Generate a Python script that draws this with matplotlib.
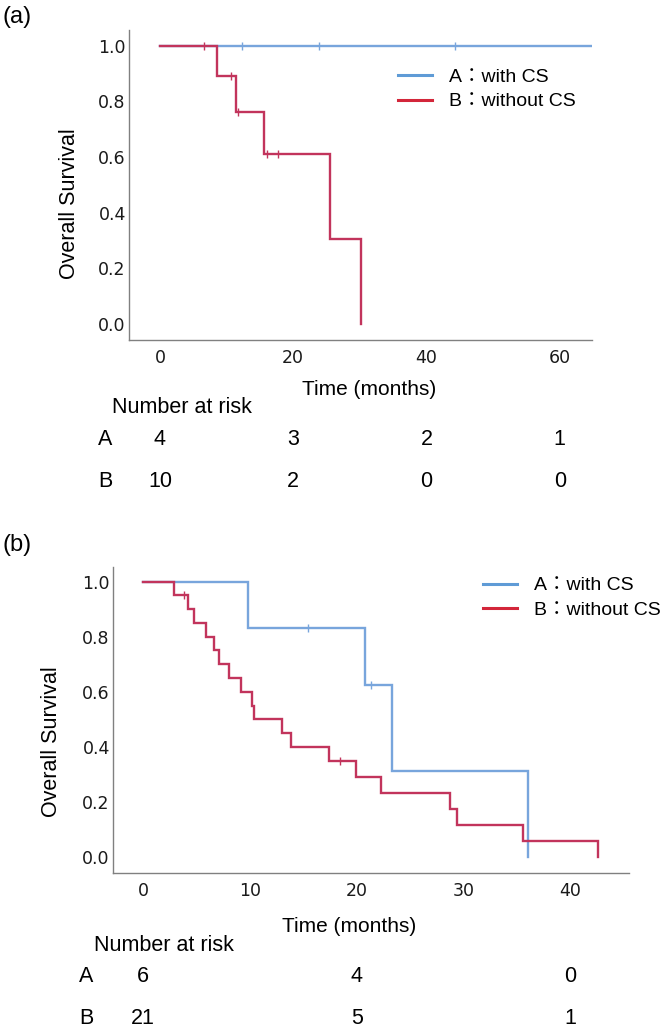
import matplotlib
matplotlib.use("Agg")
import numpy as np
import matplotlib.pyplot as plt
from matplotlib.lines import Line2D

# ---- data ----
# panel (a)
a_A_times = [0, 64.8]
a_A_surv = [1.0, 1.0]
a_A_cens = [12.3, 23.9, 44.3]
a_B_times = [0, 8.55, 11.4, 15.65, 25.5, 30.25]
a_B_surv = [1.0, 0.889, 0.762, 0.610, 0.305, 0.0]
a_B_cens = [6.6, 10.6, 11.7, 16.0, 17.65]
a_risk_times = [0, 20, 40, 60]
a_risk_A = [4, 3, 2, 1]
a_risk_B = [10, 2, 0, 0]

# panel (b)
b_A_times = [0, 9.8, 20.8, 23.3, 36.0]
b_A_surv = [1.0, 0.833, 0.625, 0.3125, 0.0]
b_A_cens = [15.4, 21.3]
b_B_times = [0, 2.9, 4.2, 4.8, 5.9, 6.6, 7.1, 8.0, 9.2, 10.2, 10.4,
             13.0, 13.8, 17.4, 19.9, 22.3, 28.7, 29.4, 35.6, 42.6]
b_B_surv = [1.0, 0.952, 0.902, 0.852, 0.802, 0.752, 0.702, 0.652, 0.602,
            0.551, 0.501, 0.451, 0.401, 0.351, 0.292, 0.234, 0.175, 0.117,
            0.058, 0.0]
b_B_cens = [3.8, 18.4]
b_risk_times = [0, 20, 40]
b_risk_A = [6, 4, 0]
b_risk_B = [21, 5, 1]

labels = ["A\uff1awith CS", "B\uff1awithout CS"]
curve_colors = ["#78a5dc", "#c2345c"]
legend_colors = ["#5f9bd6", "#d3263a"]

txt_font = ["Liberation Sans", "Noto Sans CJK JP"]


def step_at(times, surv, t):
    idx = np.searchsorted(times, t, side="right") - 1
    return np.array(surv)[idx]


def km_panel(ax, curves, risk_times, risk_A, risk_B, xlim, xticks,
             xlabel_pos, ylabel_pos, leg_anchor, risk_rows, risk_x):
    for (times, surv, cens), c in zip(curves, curve_colors):
        times = list(times)
        surv = list(surv)
        ax.step(times + [times[-1]], surv + [surv[-1]], where="post",
                color=c, lw=1.7, solid_joinstyle="miter")
        if len(cens):
            ax.plot(cens, step_at(times, surv, cens), ls="none", marker="|",
                    ms=6, mew=1.0, color=c)

    ax.set_xlim(*xlim)
    ax.set_ylim(-0.058, 1.056)
    ax.set_xticks(xticks)
    ax.set_yticks([0.0, 0.2, 0.4, 0.6, 0.8, 1.0])
    ax.set_yticklabels(["0.0", "0.2", "0.4", "0.6", "0.8", "1.0"])
    for lab in ax.get_xticklabels() + ax.get_yticklabels():
        lab.set_fontfamily("DejaVu Sans")
        lab.set_fontsize(12.5)
        lab.set_color("#1a1a1a")
    ax.tick_params(axis="x", length=0, pad=6.5)
    ax.tick_params(axis="y", length=0, pad=2.5)
    for s in ["top", "right"]:
        ax.spines[s].set_visible(False)
    for s in ["left", "bottom"]:
        ax.spines[s].set_color("#808080")
        ax.spines[s].set_linewidth(1.0)

    ax.set_xlabel("Time (months)", fontsize=15, family=txt_font, va="center")
    ax.xaxis.set_label_coords(*xlabel_pos)
    ax.set_ylabel("Overall Survival", fontsize=15.5, family=txt_font, va="center")
    ax.yaxis.set_label_coords(*ylabel_pos)

    handles = [Line2D([], [], color=c, lw=2.2) for c in legend_colors]
    ax.legend(handles, labels, loc="upper left", bbox_to_anchor=leg_anchor,
              frameon=False, borderpad=0, borderaxespad=0,
              handlelength=1.75, handletextpad=0.85, labelspacing=0.36,
              prop={"family": txt_font, "size": 14})

    tr = ax.get_xaxis_transform()
    ax.text(risk_x[0], risk_rows[0], "Number at risk", transform=tr,
            ha="left", va="center", fontsize=15.5, family=txt_font, clip_on=False)
    for name, vals, yy in [("A", risk_A, risk_rows[1]), ("B", risk_B, risk_rows[2])]:
        ax.text(risk_x[1], yy, name, transform=tr, ha="center", va="center",
                fontsize=15.5, family=txt_font, clip_on=False)
        for t, v in zip(risk_times, vals):
            ax.text(t, yy, str(v), transform=tr, ha="center", va="center",
                    fontsize=15.5, family=txt_font, clip_on=False)


fig = plt.figure(figsize=(6.61, 10.30), dpi=100)
ax1 = fig.add_axes([129.3 / 661, 1 - 340 / 1030, 462.4 / 661, 310 / 1030])
ax2 = fig.add_axes([113.3 / 661, 1 - 873.3 / 1030, 515.7 / 661, 306.6 / 1030])

km_panel(ax1,
         [(a_A_times, a_A_surv, a_A_cens), (a_B_times, a_B_surv, a_B_cens)],
         a_risk_times, a_risk_A, a_risk_B,
         xlim=(-4.6, 64.8), xticks=[0, 20, 40, 60],
         xlabel_pos=(0.519, -0.161), ylabel_pos=(-0.129, 0.439),
         leg_anchor=(0.582, 0.877), risk_rows=(-0.217, -0.320, -0.457),
         risk_x=(-7.24, -8.25))

km_panel(ax2,
         [(b_A_times, b_A_surv, b_A_cens), (b_B_times, b_B_surv, b_B_cens)],
         b_risk_times, b_risk_A, b_risk_B,
         xlim=(-2.8, 45.5), xticks=[0, 10, 20, 30, 40],
         xlabel_pos=(0.457, -0.174), ylabel_pos=(-0.120, 0.431),
         leg_anchor=(0.717, 0.967), risk_rows=(-0.234, -0.337, -0.473),
         risk_x=(-4.59, -5.3))

fig.text(3 / 661, 1 - 17 / 1030, "(a)", fontsize=17, family=txt_font,
         ha="left", va="center")
fig.text(3 / 661, 1 - 545 / 1030, "(b)", fontsize=17, family=txt_font,
         ha="left", va="center")

fig.savefig("out.png", dpi=100)
